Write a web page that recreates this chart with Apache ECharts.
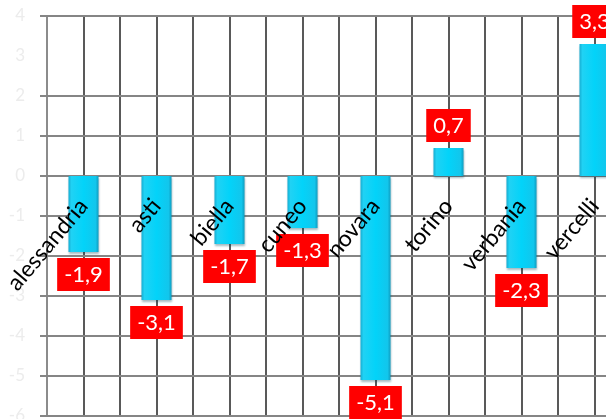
<!DOCTYPE html>
<html>
<head>
<meta charset="utf-8">
<script src="https://cdn.jsdelivr.net/npm/echarts@6/dist/echarts.min.js"></script>
<style>
  html, body { margin: 0; padding: 0; background: #ffffff; }
  #chart { width: 606px; height: 419px; }
</style>
</head>
<body>
<div id="chart"></div>
<script>
// Provinces of Piemonte and their variation
const provinces = ['alessandria', 'asti', 'biella', 'cuneo', 'novara', 'torino', 'verbania', 'vercelli'];
const variation = [-1.9, -3.1, -1.7, -1.3, -5.1, 0.7, -2.3, 3.3];

// Value axis range and step
const yMin = -6;
const yMax = 4;
const yStep = 1;
// Levels that carry a horizontal rule (3 is left blank)
const ruledLevels = [-6, -5, -4, -3, -2, -1, 0, 1, 2, 4];

const gridTop = 16;
const gridHeight = 400;

const chart = echarts.init(document.getElementById('chart'), null, { renderer: 'canvas' });

const barFill = new echarts.graphic.LinearGradient(0, 0, 1, 0, [
  { offset: 0, color: '#17AED3' },
  { offset: 0.1, color: '#20D2F4' },
  { offset: 0.5, color: '#03D3F9' },
  { offset: 0.9, color: '#12C6EC' },
  { offset: 1, color: '#0E9EC2' }
]);

const fmt = v => (v < 0 ? '-' : '') + Math.abs(v).toFixed(1).replace('.', ',');

// Horizontal rules: start a few pixels left of the value axis (tick) and run across the grid
const rules = ruledLevels.map(v => [
  { x: 40, yAxis: v },
  { x: 640, yAxis: v }
]);

// Category axis sits on the zero level: shift it up from the grid bottom
const zeroOffset = -gridHeight * (0 - yMin) / (yMax - yMin);

chart.setOption({
  animation: false,
  backgroundColor: '#ffffff',
  grid: { left: 47, top: gridTop, width: 584, height: gridHeight, containLabel: false, outerBoundsMode: 'none' },
  xAxis: [
    {
      type: 'category',
      data: provinces,
      position: 'bottom',
      offset: zeroOffset,
      z: 10,
      axisLine: { show: false, onZero: false },
      axisTick: { show: false },
      splitLine: { show: false },
      axisLabel: {
        interval: 0,
        rotate: 50,
        margin: 26,
        color: '#000000',
        fontSize: 23,
        fontFamily: 'Lato'
      }
    },
    {
      // half-category rules: category bounds and centres
      type: 'value',
      min: 0,
      max: provinces.length * 2,
      interval: 1,
      position: 'top',
      axisLine: { show: false },
      axisTick: { show: false },
      axisLabel: { show: false },
      splitLine: { show: true, lineStyle: { color: '#595959', width: 2 } }
    }
  ],
  yAxis: {
    type: 'value',
    min: yMin,
    max: yMax,
    interval: yStep,
    axisLine: { show: true, onZero: false, lineStyle: { color: '#8c8c8c', width: 2 } },
    axisTick: { show: false },
    axisLabel: {
      color: '#ececec',
      fontSize: 17,
      fontFamily: 'Lato',
      margin: 22
    },
    splitLine: { show: false }
  },
  series: [
    {
      type: 'bar',
      xAxisIndex: 0,
      barWidth: 30,
      z: 3,
      data: variation.map(v => ({
        value: v,
        label: { position: v >= 0 ? 'top' : 'bottom' }
      })),
      itemStyle: {
        color: barFill,
        shadowColor: 'rgba(0, 60, 80, 0.35)',
        shadowBlur: 2,
        shadowOffsetY: 2
      },
      label: {
        show: true,
        distance: 6,
        formatter: p => fmt(p.value),
        color: '#ffffff',
        backgroundColor: '#ff0000',
        padding: [6, 7, 5, 7],
        fontSize: 22,
        fontFamily: 'Lato'
      },
      markLine: {
        z: 1,
        silent: true,
        symbol: 'none',
        label: { show: false },
        lineStyle: { color: '#858585', width: 2, type: 'solid' },
        emphasis: { disabled: true },
        data: rules
      }
    }
  ]
});
</script>
</body>
</html>
